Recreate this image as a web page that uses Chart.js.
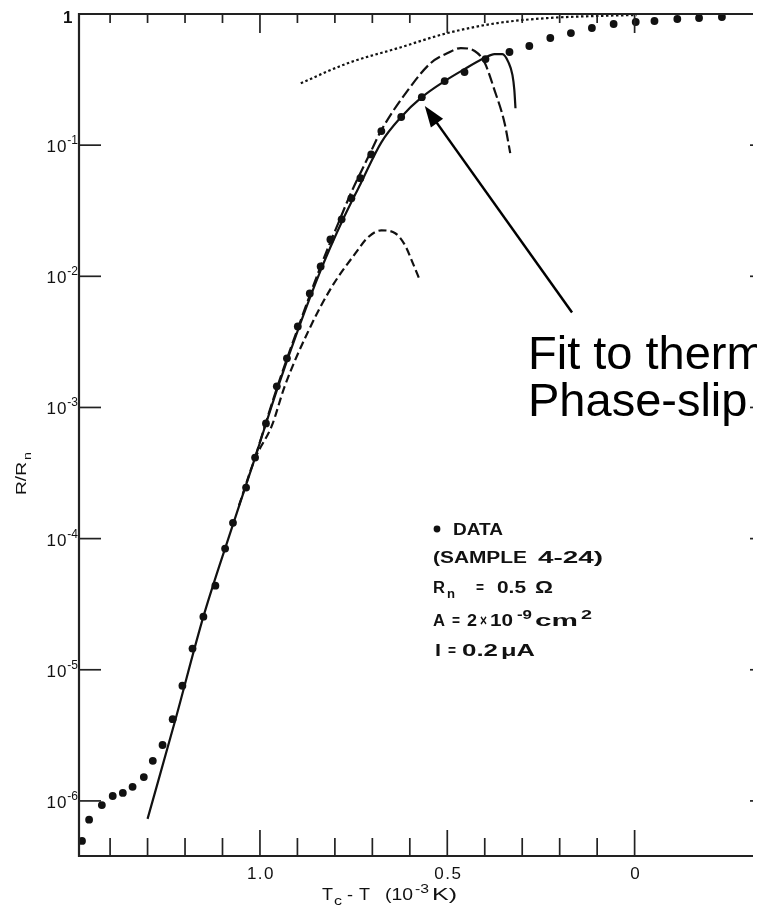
<!DOCTYPE html>
<html>
<head>
<meta charset="utf-8">
<script src="https://cdn.jsdelivr.net/npm/chart.js@4.4.1/dist/chart.umd.min.js"></script>
<style>
  html, body { margin: 0; padding: 0; background: #fff; }
  #caja { width: 757px; height: 909px; }
</style>
</head>
<body>
<div id="caja"><canvas id="grafico" width="757" height="909"></canvas></div>
<script>
// measured points (Tc - T in 1e-3 K, R/Rn)
const datosX = [1.475, 1.456, 1.422, 1.393, 1.366, 1.340, 1.310, 1.286, 1.260, 1.233,
  1.207, 1.180, 1.151, 1.119, 1.093, 1.072, 1.037, 1.013, 0.984, 0.955,
  0.928, 0.899, 0.867, 0.838, 0.812, 0.782, 0.756, 0.732, 0.703, 0.676,
  0.623, 0.568, 0.507, 0.454, 0.398, 0.334, 0.281, 0.225, 0.170, 0.114,
  0.056, -0.003, -0.053, -0.114, -0.172, -0.233];
const datosY = [4.95e-7, 7.2e-7, 9.3e-7, 1.09e-6, 1.15e-6, 1.28e-6, 1.52e-6, 2.02e-6, 2.67e-6, 4.2e-6,
  7.55e-6, 1.45e-5, 2.54e-5, 4.38e-5, 8.4e-5, 1.32e-4, 2.45e-4, 4.15e-4, 7.55e-4, 1.45e-3,
  2.37e-3, 4.15e-3, 7.4e-3, 1.19e-2, 1.91e-2, 2.72e-2, 3.94e-2, 5.6e-2, 8.5e-2, 0.128,
  0.164, 0.232, 0.308, 0.361, 0.453, 0.513, 0.570, 0.656, 0.716, 0.782,
  0.839, 0.869, 0.884, 0.916, 0.932, 0.949];

// solid fit curve
const ajusteX = [1.300, 1.225, 1.151, 1.082, 1.013, 0.955, 0.897, 0.838, 0.782, 0.732,
  0.676, 0.623, 0.568, 0.507, 0.454, 0.401, 0.374, 0.353, 0.337, 0.326, 0.321, 0.318];
const ajusteY = [7.29e-7, 4.23e-6, 2.54e-5, 1.05e-4, 4.15e-4, 1.35e-3, 4.01e-3, 1.11e-2, 2.58e-2, 5.04e-2,
  0.105, 0.164, 0.232, 0.308, 0.380, 0.461, 0.495, 0.495, 0.430, 0.342, 0.263, 0.191];

// upper dashed curve
const superiorX = [1.013, 0.955, 0.897, 0.838, 0.790, 0.756, 0.706, 0.676, 0.605, 0.544,
  0.499, 0.464, 0.427, 0.401, 0.374, 0.347, 0.332];
const superiorY = [4.15e-4, 1.40e-3, 4.15e-3, 1.19e-2, 2.58e-2, 4.38e-2, 8.69e-2, 0.130, 0.263, 0.423,
  0.504, 0.550, 0.522, 0.430, 0.263, 0.147, 0.0869];

// lower dashed curve
const inferiorX = [1.056, 1.013, 0.968, 0.934, 0.870, 0.809, 0.745, 0.711, 0.676, 0.639, 0.613, 0.592, 0.573];
const inferiorY = [1.79e-4, 4.08e-4, 7.29e-4, 1.45e-3, 3.87e-3, 8.24e-3, 1.50e-2, 1.99e-2, 2.24e-2, 2.13e-2, 1.73e-2, 1.26e-2, 9.3e-3];

// dotted curve near the top
const punteadaX = [0.891, 0.764, 0.631, 0.499, 0.366, 0.233, 0.101, -0.005];
const punteadaY = [0.297, 0.423, 0.550, 0.716, 0.853, 0.931, 0.966, 0.982];

// axes
const ticksMayoresX = [1.0, 0.5, 0];
const etiquetasX = ['1.0', '0.5', '0'];
const ticksMenoresX = [1.4, 1.3, 1.2, 1.1, 0.9, 0.8, 0.7, 0.6, 0.4, 0.3, 0.2, 0.1];
const decadasY = [0, -1, -2, -3, -4, -5, -6];
const etiquetasY = ['1', '-1', '-2', '-3', '-4', '-5', '-6'];

// arrow of the note, in data units
const flechaDesde = { x: 0.167, y: 0.0053 };
const flechaHasta = { x: 0.560, y: 0.199 };

const fam = '"Liberation Sans", Arial, sans-serif';

function puntos(xs, ys) {
  return xs.map((x, i) => ({ x: x, y: ys[i] }));
}

// parts: [text, kind, x, width] ; glyphs are stretched to the width seen in the scan
function trozos(ctx, partes, y, tam, peso) {
  partes.forEach(([t, tipo, x, ancho]) => {
    const f = tipo === 'n' ? tam : Math.round(tam * 0.72);
    ctx.font = peso + ' ' + f + 'px ' + fam;
    let dy = 0;
    if (tipo === 'sub') dy = tam * 0.3;
    if (tipo === 'sup') dy = -tam * 0.45;
    const w = ctx.measureText(t).width;
    const k = ancho ? ancho / w : 1;
    ctx.save();
    ctx.translate(x, y + dy);
    ctx.scale(k, 1);
    ctx.fillText(t, 0, 0);
    ctx.restore();
  });
}

const ejes = {
  id: 'ejes',
  afterDatasetsDraw(chart) {
    const { ctx, chartArea: a, scales: { x, y } } = chart;
    ctx.save();
    ctx.strokeStyle = '#222';
    ctx.fillStyle = '#111';
    ctx.lineWidth = 2.2;
    ctx.beginPath();
    ctx.moveTo(a.right, a.top);
    ctx.lineTo(a.left, a.top);
    ctx.lineTo(a.left, a.bottom);
    ctx.lineTo(a.right, a.bottom);
    ctx.stroke();

    const raya = (x1, y1, x2, y2) => {
      ctx.beginPath(); ctx.moveTo(x1, y1); ctx.lineTo(x2, y2); ctx.stroke();
    };
    ctx.lineWidth = 1.7;
    ticksMayoresX.forEach(v => {
      const px = x.getPixelForValue(v);
      raya(px, a.bottom, px, a.bottom - 26);
      raya(px, a.top, px, a.top + 19);
    });
    ticksMenoresX.forEach(v => {
      const px = x.getPixelForValue(v);
      raya(px, a.bottom, px, a.bottom - 18);
      raya(px, a.top, px, a.top + 9);
    });
    decadasY.slice(1).forEach(d => {
      const py = y.getPixelForValue(Math.pow(10, d));
      raya(a.left, py, a.left + 22, py);
      raya(a.right - 3, py, a.right, py);
    });

    // x tick labels
    ctx.textAlign = 'center';
    ctx.textBaseline = 'alphabetic';
    ctx.font = '17px ' + fam;
    ctx.letterSpacing = '1.5px';
    ticksMayoresX.forEach((v, i) => {
      ctx.fillText(etiquetasX[i], x.getPixelForValue(v) + 1, a.bottom + 23);
    });
    ctx.letterSpacing = '0px';
    // y tick labels
    ctx.textAlign = 'left';
    decadasY.forEach((d, i) => {
      const py = y.getPixelForValue(Math.pow(10, d));
      if (d === 0) {
        ctx.font = 'bold 17px ' + fam;
        ctx.fillText(etiquetasY[i], 63, py + 9);
        return;
      }
      ctx.font = '12px ' + fam;
      const we = ctx.measureText(etiquetasY[i]).width;
      ctx.font = '17px ' + fam;
      ctx.letterSpacing = '1px';
      const wb = ctx.measureText('10').width;
      const x0 = 78 - we - wb;
      ctx.fillText('10', x0, py + 7);
      ctx.letterSpacing = '0px';
      ctx.font = '12px ' + fam;
      ctx.fillText(etiquetasY[i], x0 + wb, py - 1);
    });

    // axis titles
    trozos(ctx, [['T', 'n', 322, 11], ['c', 'sub', 334, 8], ['-', 'n', 347, 6], ['T', 'n', 359, 11],
      ['(10', 'n', 385, 28], ['-3', 'sup', 415, 14], ['K)', 'n', 432, 25]], 900, 16, 'normal');
    ctx.save();
    ctx.translate(26, 495);
    ctx.rotate(-Math.PI / 2);
    trozos(ctx, [['R/R', 'n', 0, 33], ['n', 'sub', 35, 8]], 0, 15, 'normal');
    ctx.restore();

    // legend block
    ctx.beginPath();
    ctx.arc(437, 529, 3.4, 0, Math.PI * 2);
    ctx.fill();
    trozos(ctx, [['DATA', 'n', 453, 50]], 535, 16, 'bold');
    trozos(ctx, [['(SAMPLE', 'n', 433, 94], ['4-24)', 'n', 538, 65]], 563, 16, 'bold');
    trozos(ctx, [['R', 'n', 433, 12], ['n', 'sub', 447, 8], ['=', 'n', 476, 8], ['0.5', 'n', 497, 29], ['\u03a9', 'n', 535, 18]], 593, 16, 'bold');
    trozos(ctx, [['A', 'n', 433, 12], ['=', 'n', 452, 8], ['2', 'n', 467, 10], ['\u00d7', 'n', 480, 7],
      ['10', 'n', 490, 23], ['-9', 'sup', 517, 15], ['cm', 'n', 535, 43], ['2', 'sup', 581, 11]], 626, 16, 'bold');
    trozos(ctx, [['I', 'n', 435, 6], ['=', 'n', 448, 8], ['0.2', 'n', 462, 36], ['\u03bcA', 'n', 501, 34]], 656, 16, 'bold');

    // note with arrow
    const ax = x.getPixelForValue(flechaDesde.x), ay = y.getPixelForValue(flechaDesde.y);
    const bx = x.getPixelForValue(flechaHasta.x), by = y.getPixelForValue(flechaHasta.y);
    const ang = Math.atan2(by - ay, bx - ax);
    ctx.strokeStyle = '#000';
    ctx.fillStyle = '#000';
    ctx.lineWidth = 2.5;
    raya(ax, ay, bx - 14 * Math.cos(ang), by - 14 * Math.sin(ang));
    ctx.beginPath();
    ctx.moveTo(bx, by);
    ctx.lineTo(bx - 21 * Math.cos(ang) + 7.5 * Math.sin(ang), by - 21 * Math.sin(ang) - 7.5 * Math.cos(ang));
    ctx.lineTo(bx - 21 * Math.cos(ang) - 7.5 * Math.sin(ang), by - 21 * Math.sin(ang) + 7.5 * Math.cos(ang));
    ctx.closePath();
    ctx.fill();
    ctx.font = '47px ' + fam;
    ctx.fillText('Fit to thermal', 528, 369);
    ctx.fillText('Phase-slip theory', 528, 416);
    ctx.restore();
  }
};

document.addEventListener("DOMContentLoaded", () => {
  const lienzo = document.querySelector("#grafico");
  const linea = {
    showLine: true,
    borderColor: '#111',
    borderWidth: 2.2,
    pointRadius: 0,
    cubicInterpolationMode: 'monotone',
    fill: false
  };
  new Chart(lienzo, {
    type: 'scatter',
    data: {
      datasets: [
        {
          label: 'DATA',
          data: puntos(datosX, datosY),
          pointRadius: 3.9,
          pointBorderWidth: 0,
          backgroundColor: '#111',
          borderColor: '#111',
          clip: 10
        },
        Object.assign({ label: 'fit', data: puntos(ajusteX, ajusteY) }, linea),
        Object.assign({ label: 'upper', data: puntos(superiorX, superiorY), borderDash: [11, 4] }, linea),
        Object.assign({ label: 'lower', data: puntos(inferiorX, inferiorY), borderDash: [8, 4] }, linea),
        Object.assign({ label: 'dotted', data: puntos(punteadaX, punteadaY), borderDash: [2.5, 2.5], borderWidth: 3.2 }, linea)
      ]
    },
    options: {
      responsive: false,
      devicePixelRatio: 1,
      animation: false,
      layout: { padding: { left: 79, top: 14, right: 0, bottom: 53 } },
      plugins: { legend: { display: false }, tooltip: { enabled: false } },
      scales: {
        x: { type: 'linear', reverse: true, min: -0.316, max: 1.483, display: false },
        y: { type: 'logarithmic', min: Math.pow(10, -6.42), max: 1, display: false }
      }
    },
    plugins: [ejes]
  });
});
</script>
</body>
</html>
